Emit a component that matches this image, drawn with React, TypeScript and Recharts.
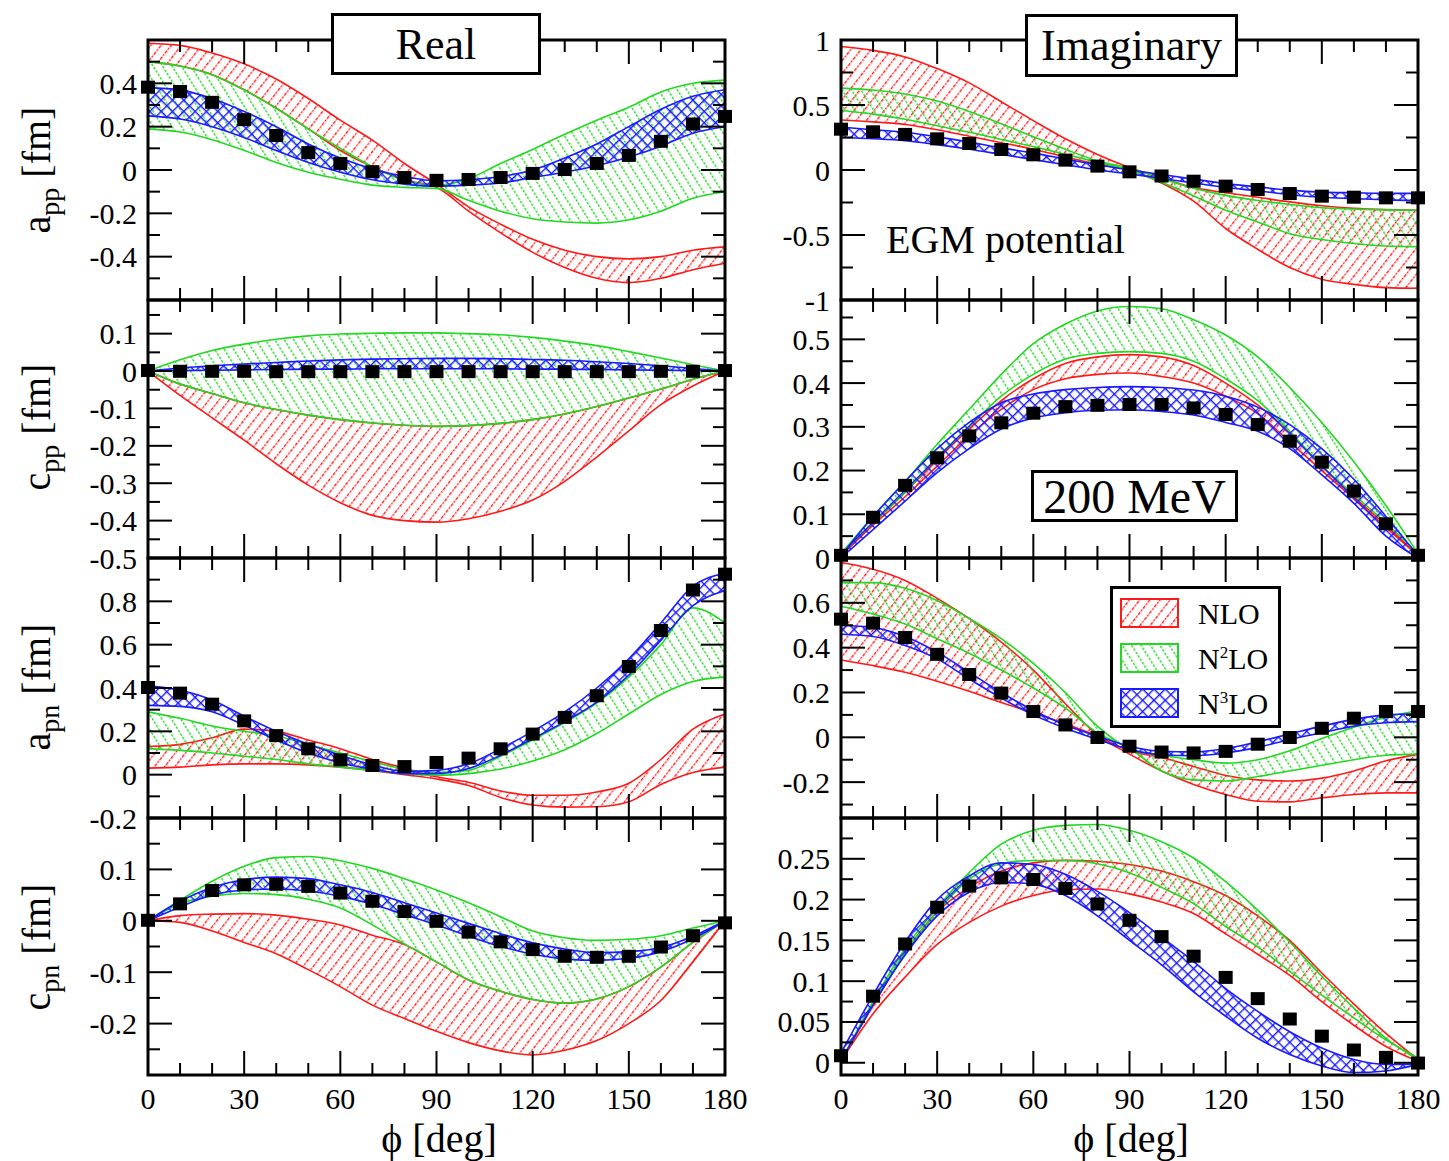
import React from 'react'
import { ComposedChart, Area, Scatter, XAxis, YAxis, ReferenceArea } from 'recharts'

const SERIF = '"Liberation Serif", "DejaVu Serif", "Times New Roman", serif'
const RED = '#ff1a1a'
const GREEN = '#22d822'
const BLUE = '#1a1aff'

const PHI = [0, 10, 20, 30, 40, 50, 60, 70, 80, 90, 100, 110, 120, 130, 140, 150, 160, 170, 180]
const PHI_MAJOR = [0, 30, 60, 90, 120, 150, 180]

// a_pp, real part
const appReNloA = [0.585, 0.575, 0.54, 0.49, 0.42, 0.33, 0.23, 0.138, 0.03, -0.065, -0.17, -0.25, -0.32, -0.37, -0.4, -0.41, -0.4, -0.37, -0.355]
const appReNloB = [0.5, 0.48, 0.44, 0.37, 0.285, 0.19, 0.09, 0.015, -0.046, -0.08, -0.19, -0.29, -0.38, -0.45, -0.5, -0.52, -0.5, -0.46, -0.43]
const appReN2A = [0.5, 0.48, 0.44, 0.37, 0.285, 0.19, 0.1, 0.015, -0.046, -0.07, -0.04, 0.03, 0.095, 0.165, 0.23, 0.29, 0.36, 0.4, 0.415]
const appReN2B = [0.19, 0.175, 0.14, 0.09, 0.035, -0.01, -0.043, -0.07, -0.08, -0.085, -0.14, -0.19, -0.225, -0.24, -0.245, -0.23, -0.19, -0.13, -0.1]
const appReN3A = [0.38, 0.37, 0.33, 0.27, 0.2, 0.12, 0.055, 0.005, -0.03, -0.05, -0.045, -0.03, 0.0, 0.055, 0.12, 0.2, 0.28, 0.34, 0.37]
const appReN3B = [0.25, 0.235, 0.2, 0.15, 0.09, 0.035, -0.01, -0.045, -0.065, -0.075, -0.07, -0.06, -0.035, -0.01, 0.02, 0.06, 0.11, 0.17, 0.2]
const appReExp = [0.38, 0.36, 0.31, 0.23, 0.157, 0.078, 0.028, -0.01, -0.037, -0.05, -0.046, -0.037, -0.018, 0.0, 0.028, 0.065, 0.13, 0.21, 0.245]

// a_pp, imaginary part
const appImNloA = [0.95, 0.92, 0.87, 0.78, 0.67, 0.525, 0.38, 0.24, 0.12, 0.02, -0.06, -0.135, -0.175, -0.21, -0.245, -0.275, -0.295, -0.305, -0.31]
const appImNloB = [0.385, 0.37, 0.35, 0.31, 0.26, 0.21, 0.16, 0.1, 0.045, 0.0, -0.1, -0.24, -0.45, -0.61, -0.75, -0.84, -0.88, -0.905, -0.91]
const appImN2A = [0.63, 0.615, 0.585, 0.53, 0.45, 0.355, 0.255, 0.16, 0.07, 0.015, -0.065, -0.14, -0.195, -0.235, -0.265, -0.29, -0.3, -0.307, -0.31]
const appImN2B = [0.46, 0.43, 0.39, 0.34, 0.29, 0.235, 0.18, 0.12, 0.06, 0.0, -0.095, -0.2, -0.31, -0.4, -0.49, -0.535, -0.565, -0.585, -0.59]
const appImN3A = [0.33, 0.31, 0.29, 0.255, 0.215, 0.17, 0.13, 0.085, 0.04, 0.0, -0.035, -0.07, -0.105, -0.13, -0.155, -0.17, -0.175, -0.18, -0.18]
const appImN3B = [0.25, 0.24, 0.225, 0.195, 0.16, 0.12, 0.08, 0.04, 0.0, -0.03, -0.065, -0.1, -0.135, -0.16, -0.19, -0.21, -0.22, -0.23, -0.235]
const appImExp = [0.31, 0.29, 0.27, 0.236, 0.2, 0.154, 0.113, 0.072, 0.026, -0.018, -0.05, -0.09, -0.128, -0.154, -0.185, -0.205, -0.213, -0.218, -0.218]

// c_pp, real part
const cppReNloA = [0, -0.035, -0.06, -0.085, -0.103, -0.118, -0.13, -0.139, -0.145, -0.148, -0.146, -0.14, -0.13, -0.115, -0.095, -0.072, -0.048, -0.022, 0]
const cppReNloB = [0, -0.065, -0.125, -0.185, -0.248, -0.305, -0.352, -0.386, -0.4, -0.404, -0.395, -0.375, -0.345, -0.295, -0.23, -0.16, -0.09, -0.04, 0]
const cppReN2A = [0, 0.03, 0.055, 0.072, 0.085, 0.094, 0.099, 0.101, 0.102, 0.102, 0.1, 0.097, 0.09, 0.08, 0.068, 0.052, 0.035, 0.017, 0]
const cppReN2B = [0, -0.035, -0.06, -0.085, -0.103, -0.118, -0.13, -0.139, -0.145, -0.148, -0.146, -0.14, -0.13, -0.115, -0.095, -0.072, -0.048, -0.022, 0]
const cppReN3A = [0, 0.008, 0.014, 0.019, 0.023, 0.027, 0.03, 0.032, 0.033, 0.034, 0.034, 0.033, 0.031, 0.029, 0.025, 0.02, 0.014, 0.007, 0]
const cppReN3B = [0, 0.001, 0.002, 0.003, 0.004, 0.005, 0.005, 0.006, 0.006, 0.006, 0.006, 0.006, 0.005, 0.005, 0.004, 0.003, 0.002, 0.001, 0]
const cppReExp = [0, -0.002, -0.002, -0.002, -0.003, -0.003, -0.003, -0.003, -0.003, -0.003, -0.003, -0.003, -0.003, -0.003, -0.003, -0.003, -0.002, -0.002, 0]

// c_pp, imaginary part
const cppImNloA = [0.01, 0.08, 0.15, 0.225, 0.295, 0.36, 0.41, 0.445, 0.46, 0.465, 0.46, 0.44, 0.4, 0.35, 0.285, 0.21, 0.14, 0.075, 0.005]
const cppImNloB = [0.005, 0.075, 0.14, 0.21, 0.28, 0.34, 0.385, 0.41, 0.42, 0.423, 0.415, 0.4, 0.37, 0.33, 0.265, 0.2, 0.135, 0.07, 0.005]
const cppImN2A = [0.01, 0.095, 0.175, 0.26, 0.34, 0.42, 0.49, 0.535, 0.565, 0.575, 0.57, 0.545, 0.51, 0.46, 0.39, 0.31, 0.22, 0.12, 0.01]
const cppImN2B = [0.01, 0.08, 0.15, 0.23, 0.3, 0.37, 0.42, 0.455, 0.468, 0.472, 0.468, 0.45, 0.41, 0.36, 0.29, 0.21, 0.145, 0.08, 0.01]
const cppImN3A = [0.005, 0.095, 0.175, 0.25, 0.31, 0.355, 0.375, 0.385, 0.39, 0.392, 0.39, 0.384, 0.37, 0.345, 0.305, 0.25, 0.18, 0.095, 0.005]
const cppImN3B = [0, 0.065, 0.13, 0.195, 0.25, 0.295, 0.32, 0.332, 0.338, 0.339, 0.335, 0.327, 0.31, 0.29, 0.25, 0.19, 0.125, 0.05, 0]
const cppImExp = [0.005, 0.092, 0.165, 0.228, 0.278, 0.308, 0.33, 0.345, 0.348, 0.35, 0.35, 0.342, 0.327, 0.304, 0.266, 0.218, 0.152, 0.077, 0.005]

// a_pn, real part
const apnReNloA = [0.13, 0.14, 0.17, 0.21, 0.2, 0.16, 0.12, 0.07, 0.03, -0.01, -0.035, -0.075, -0.095, -0.095, -0.08, -0.04, 0.07, 0.21, 0.28]
const apnReNloB = [0.03, 0.035, 0.045, 0.05, 0.05, 0.045, 0.035, 0.02, 0.0, -0.02, -0.05, -0.105, -0.14, -0.15, -0.148, -0.125, -0.045, 0.01, 0.035]
const apnReN2A = [0.29, 0.26, 0.225, 0.2, 0.18, 0.14, 0.1, 0.06, 0.025, 0.01, 0.02, 0.085, 0.16, 0.24, 0.33, 0.45, 0.6, 0.77, 0.7]
const apnReN2B = [0.12, 0.112, 0.1, 0.085, 0.07, 0.05, 0.035, 0.02, 0.005, -0.003, 0.005, 0.026, 0.063, 0.115, 0.19, 0.28, 0.37, 0.43, 0.45]
const apnReN3A = [0.41, 0.39, 0.345, 0.27, 0.2, 0.14, 0.09, 0.045, 0.015, 0.02, 0.05, 0.12, 0.2, 0.29, 0.4, 0.535, 0.7, 0.87, 0.93]
const apnReN3B = [0.32, 0.315, 0.29, 0.228, 0.16, 0.1, 0.055, 0.025, 0.005, 0.005, 0.028, 0.09, 0.166, 0.245, 0.335, 0.46, 0.62, 0.78, 0.85]
const apnReExp = [0.4, 0.374, 0.323, 0.246, 0.178, 0.117, 0.066, 0.04, 0.035, 0.054, 0.074, 0.117, 0.185, 0.262, 0.362, 0.497, 0.663, 0.85, 0.923]

// a_pn, imaginary part
const apnImNloA = [0.78, 0.75, 0.7, 0.62, 0.53, 0.425, 0.3, 0.15, 0.01, -0.075, -0.15, -0.21, -0.255, -0.285, -0.288, -0.27, -0.255, -0.248, -0.248]
const apnImNloB = [0.345, 0.32, 0.29, 0.25, 0.205, 0.155, 0.11, 0.06, 0.005, -0.06, -0.09, -0.13, -0.17, -0.19, -0.195, -0.182, -0.15, -0.105, -0.075]
const apnImN2A = [0.69, 0.69, 0.665, 0.61, 0.53, 0.44, 0.33, 0.2, 0.05, -0.05, -0.08, -0.1, -0.115, -0.1, -0.06, -0.005, 0.045, 0.09, 0.12]
const apnImN2B = [0.585, 0.55, 0.505, 0.44, 0.375, 0.3, 0.22, 0.13, 0.02, -0.05, -0.15, -0.19, -0.195, -0.175, -0.15, -0.125, -0.1, -0.08, -0.075]
const apnImN3A = [0.5, 0.49, 0.45, 0.38, 0.29, 0.2, 0.12, 0.055, 0.005, -0.04, -0.062, -0.065, -0.05, -0.02, 0.015, 0.05, 0.08, 0.1, 0.105]
const apnImN3B = [0.46, 0.45, 0.41, 0.35, 0.26, 0.175, 0.1, 0.04, -0.01, -0.055, -0.078, -0.082, -0.07, -0.045, -0.01, 0.02, 0.05, 0.065, 0.07]
const apnImExp = [0.525, 0.507, 0.443, 0.368, 0.278, 0.195, 0.113, 0.053, -0.003, -0.042, -0.068, -0.072, -0.065, -0.033, -0.003, 0.038, 0.083, 0.113, 0.113]

// c_pn, real part
const cpnReNloA = [0, 0.01, 0.013, 0.014, 0.011, 0.003, -0.008, -0.028, -0.046, -0.08, -0.115, -0.137, -0.153, -0.16, -0.152, -0.128, -0.09, -0.042, 0]
const cpnReNloB = [0, -0.003, -0.02, -0.042, -0.064, -0.095, -0.128, -0.164, -0.19, -0.215, -0.237, -0.253, -0.261, -0.252, -0.233, -0.2, -0.155, -0.08, 0]
const cpnReN2A = [0, 0.04, 0.077, 0.106, 0.123, 0.125, 0.117, 0.102, 0.082, 0.06, 0.035, 0.008, -0.02, -0.033, -0.038, -0.036, -0.029, -0.014, 0]
const cpnReN2B = [0, 0.033, 0.048, 0.053, 0.051, 0.042, 0.025, -0.008, -0.045, -0.08, -0.115, -0.137, -0.153, -0.16, -0.152, -0.128, -0.09, -0.042, 0]
const cpnReN3A = [0, 0.038, 0.065, 0.08, 0.085, 0.082, 0.07, 0.055, 0.035, 0.015, -0.005, -0.025, -0.043, -0.055, -0.062, -0.06, -0.052, -0.03, 0]
const cpnReN3B = [0, 0.027, 0.05, 0.06, 0.062, 0.058, 0.048, 0.032, 0.012, -0.008, -0.03, -0.05, -0.065, -0.074, -0.077, -0.073, -0.06, -0.035, 0]
const cpnReExp = [0, 0.032, 0.058, 0.069, 0.07, 0.066, 0.053, 0.037, 0.017, -0.002, -0.023, -0.042, -0.057, -0.07, -0.072, -0.07, -0.052, -0.03, -0.005]

// c_pn, imaginary part
const cpnImNloA = [0.002, 0.07, 0.135, 0.185, 0.215, 0.235, 0.245, 0.248, 0.247, 0.243, 0.235, 0.222, 0.205, 0.18, 0.15, 0.11, 0.072, 0.036, 0.004]
const cpnImNloB = [0.002, 0.06, 0.105, 0.145, 0.172, 0.192, 0.205, 0.212, 0.213, 0.207, 0.197, 0.183, 0.158, 0.133, 0.107, 0.075, 0.046, 0.02, 0.002]
const cpnImN2A = [0.002, 0.075, 0.14, 0.19, 0.233, 0.268, 0.285, 0.291, 0.292, 0.285, 0.271, 0.251, 0.222, 0.187, 0.148, 0.106, 0.067, 0.03, 0.004]
const cpnImN2B = [0.002, 0.072, 0.135, 0.185, 0.225, 0.244, 0.248, 0.248, 0.244, 0.233, 0.215, 0.195, 0.167, 0.142, 0.112, 0.083, 0.055, 0.028, 0.006]
const cpnImN3A = [0.012, 0.083, 0.148, 0.2, 0.229, 0.245, 0.243, 0.231, 0.21, 0.184, 0.154, 0.124, 0.091, 0.063, 0.038, 0.018, 0.004, -0.002, -0.002]
const cpnImN3B = [0.002, 0.071, 0.132, 0.18, 0.209, 0.221, 0.219, 0.205, 0.18, 0.15, 0.12, 0.087, 0.057, 0.03, 0.01, -0.004, -0.012, -0.01, -0.002]
const cpnImExp = [0.008, 0.081, 0.145, 0.19, 0.216, 0.226, 0.224, 0.213, 0.194, 0.174, 0.154, 0.13, 0.104, 0.078, 0.053, 0.032, 0.015, 0.006, -0.001]

function buildRows(nloA, nloB, n2A, n2B, n3A, n3B, exp) {
  return PHI.map((phi, i) => ({
    phi,
    nlo: [nloB[i], nloA[i]],
    n2: [n2B[i], n2A[i]],
    n3: [n3B[i], n3A[i]],
    exp: exp[i],
  }))
}

const PANELS = [
  {
    id: 'appRe', col: 0, row: 0,
    data: buildRows(appReNloA, appReNloB, appReN2A, appReN2B, appReN3A, appReN3B, appReExp),
    domain: [-0.6, 0.6],
    yMajor: [-0.6, -0.4, -0.2, 0, 0.2, 0.4, 0.6],
    yMinor: [-0.5, -0.3, -0.1, 0.1, 0.3, 0.5],
    yLabels: [-0.4, -0.2, 0, 0.2, 0.4],
  },
  {
    id: 'appIm', col: 1, row: 0,
    data: buildRows(appImNloA, appImNloB, appImN2A, appImN2B, appImN3A, appImN3B, appImExp),
    domain: [-1, 1],
    yMajor: [-1, -0.5, 0, 0.5, 1],
    yMinor: [-0.75, -0.25, 0.25, 0.75],
    yLabels: [-1, -0.5, 0, 0.5, 1],
  },
  {
    id: 'cppRe', col: 0, row: 1,
    data: buildRows(cppReNloA, cppReNloB, cppReN2A, cppReN2B, cppReN3A, cppReN3B, cppReExp),
    domain: [-0.5, 0.19],
    yMajor: [-0.5, -0.4, -0.3, -0.2, -0.1, 0, 0.1],
    yMinor: [-0.45, -0.35, -0.25, -0.15, -0.05, 0.05, 0.15],
    yLabels: [-0.5, -0.4, -0.3, -0.2, -0.1, 0, 0.1],
  },
  {
    id: 'cppIm', col: 1, row: 1,
    data: buildRows(cppImNloA, cppImNloB, cppImN2A, cppImN2B, cppImN3A, cppImN3B, cppImExp),
    domain: [0, 0.59],
    yMajor: [0, 0.1, 0.2, 0.3, 0.4, 0.5],
    yMinor: [0.05, 0.15, 0.25, 0.35, 0.45, 0.55],
    yLabels: [0, 0.1, 0.2, 0.3, 0.4, 0.5],
  },
  {
    id: 'apnRe', col: 0, row: 2,
    data: buildRows(apnReNloA, apnReNloB, apnReN2A, apnReN2B, apnReN3A, apnReN3B, apnReExp),
    domain: [-0.2, 1.0],
    yMajor: [-0.2, 0, 0.2, 0.4, 0.6, 0.8, 1.0],
    yMinor: [-0.1, 0.1, 0.3, 0.5, 0.7, 0.9],
    yLabels: [-0.2, 0, 0.2, 0.4, 0.6, 0.8],
  },
  {
    id: 'apnIm', col: 1, row: 2,
    data: buildRows(apnImNloA, apnImNloB, apnImN2A, apnImN2B, apnImN3A, apnImN3B, apnImExp),
    domain: [-0.36, 0.8],
    yMajor: [-0.2, 0, 0.2, 0.4, 0.6, 0.8],
    yMinor: [-0.3, -0.1, 0.1, 0.3, 0.5, 0.7],
    yLabels: [-0.2, 0, 0.2, 0.4, 0.6],
  },
  {
    id: 'cpnRe', col: 0, row: 3,
    data: buildRows(cpnReNloA, cpnReNloB, cpnReN2A, cpnReN2B, cpnReN3A, cpnReN3B, cpnReExp),
    domain: [-0.3, 0.2],
    yMajor: [-0.3, -0.2, -0.1, 0, 0.1, 0.2],
    yMinor: [-0.25, -0.15, -0.05, 0.05, 0.15],
    yLabels: [-0.2, -0.1, 0, 0.1],
  },
  {
    id: 'cpnIm', col: 1, row: 3,
    data: buildRows(cpnImNloA, cpnImNloB, cpnImN2A, cpnImN2B, cpnImN3A, cpnImN3B, cpnImExp),
    domain: [-0.015, 0.3],
    yMajor: [0, 0.05, 0.1, 0.15, 0.2, 0.25, 0.3],
    yMinor: [0.025, 0.075, 0.125, 0.175, 0.225, 0.275],
    yLabels: [0, 0.05, 0.1, 0.15, 0.2, 0.25],
  },
]

// layout of the plot frames on the page
const PLOT_W = 577
const COL_X = [148, 841]
const ROWS = [
  { top: 40, h: 260 },
  { top: 300, h: 258 },
  { top: 558, h: 260 },
  { top: 818, h: 257 },
]
const ML = 100
const MR = 24
const MT = 20
const MAJOR_LEN = 24
const MINOR_LEN = 12

function hatchDefs(prefix) {
  return [
    <pattern key="nlo" id={`${prefix}-nlo`} patternUnits="userSpaceOnUse" width={8} height={8} patternTransform="rotate(38)">
      <line x1={0.7} y1={0} x2={0.7} y2={8} stroke={RED} strokeWidth={1.4} strokeDasharray="2.2 1.2" />
    </pattern>,
    <pattern key="n2" id={`${prefix}-n2`} patternUnits="userSpaceOnUse" width={8} height={8} patternTransform="rotate(-32)">
      <line x1={0.7} y1={0} x2={0.7} y2={8} stroke={GREEN} strokeWidth={1.4} strokeDasharray="2.5 1.5" />
    </pattern>,
    <pattern key="n3" id={`${prefix}-n3`} patternUnits="userSpaceOnUse" width={8} height={8} patternTransform="rotate(45)">
      <line x1={0.7} y1={0} x2={0.7} y2={8} stroke={BLUE} strokeWidth={1.4} />
      <line x1={0} y1={0.7} x2={8} y2={0.7} stroke={BLUE} strokeWidth={1.4} />
    </pattern>,
  ]
}

const square = (props) => {
  const { cx, cy } = props
  if (cx == null || cy == null) return <g />
  return <rect x={cx - 7} y={cy - 7} width={14} height={13} fill="#000" />
}

function PanelChart({ p }) {
  const { top, h } = ROWS[p.row]
  const left = COL_X[p.col]
  const last = p.row === 3
  const MB = last ? 50 : 24
  const plotBottom = MT + h
  const plotRight = ML + PLOT_W

  const xTick = (props) => {
    const { x, payload } = props
    const v = payload.value
    const major = PHI_MAJOR.includes(v)
    const len = major ? MAJOR_LEN : MINOR_LEN
    return (
      <g>
        <line x1={x} x2={x} y1={plotBottom} y2={plotBottom - len} stroke="#000" strokeWidth={2} />
        <line x1={x} x2={x} y1={MT} y2={MT + len} stroke="#000" strokeWidth={2} />
        {last && major && (
          <text x={x} y={plotBottom + 23} textAnchor="middle" dominantBaseline="central" fontSize={30} fontFamily={SERIF} fill="#000">
            {v}
          </text>
        )}
      </g>
    )
  }

  const yTick = (props) => {
    const { y, payload } = props
    const v = payload.value
    const major = p.yMajor.includes(v)
    const len = major ? MAJOR_LEN : MINOR_LEN
    return (
      <g>
        <line x1={ML} x2={ML + len} y1={y} y2={y} stroke="#000" strokeWidth={2} />
        <line x1={plotRight} x2={plotRight - len} y1={y} y2={y} stroke="#000" strokeWidth={2} />
        {p.yLabels.includes(v) && (
          <text x={ML - 11} y={y} textAnchor="end" dominantBaseline="central" fontSize={30} fontFamily={SERIF} fill="#000">
            {String(v)}
          </text>
        )}
      </g>
    )
  }

  return (
    <div style={{ position: 'absolute', left: left - ML, top: top - MT }}>
      <ComposedChart
        width={ML + PLOT_W + MR}
        height={MT + h + MB}
        data={p.data}
        margin={{ top: MT, right: MR, bottom: 0, left: 0 }}
      >
        <defs>{hatchDefs(p.id)}</defs>
        <XAxis
          type="number"
          dataKey="phi"
          domain={[0, 180]}
          ticks={PHI}
          interval={0}
          height={MB}
          axisLine={false}
          tickLine={false}
          tick={xTick}
        />
        <YAxis
          type="number"
          domain={p.domain}
          ticks={[...p.yMajor, ...p.yMinor]}
          interval={0}
          width={ML}
          axisLine={false}
          tickLine={false}
          tick={yTick}
        />
        <Area dataKey="nlo" type="monotone" stroke={RED} strokeWidth={1.6} fill={`url(#${p.id}-nlo)`} fillOpacity={1} dot={false} activeDot={false} isAnimationActive={false} />
        <Area dataKey="n2" type="monotone" stroke={GREEN} strokeWidth={1.6} fill={`url(#${p.id}-n2)`} fillOpacity={1} dot={false} activeDot={false} isAnimationActive={false} />
        <Area dataKey="n3" type="monotone" stroke={BLUE} strokeWidth={1.6} fill={`url(#${p.id}-n3)`} fillOpacity={1} dot={false} activeDot={false} isAnimationActive={false} />
        <Scatter dataKey="exp" shape={square} isAnimationActive={false} />
        <ReferenceArea x1={0} x2={180} y1={p.domain[0]} y2={p.domain[1]} fill="none" stroke="#000" strokeWidth={3} />
      </ComposedChart>
    </div>
  )
}

const yTitles = [
  { base: 'a', sub: 'pp', y: 170 },
  { base: 'c', sub: 'pp', y: 427 },
  { base: 'a', sub: 'pn', y: 687 },
  { base: 'c', sub: 'pn', y: 947 },
]

const legendItems = [
  { key: 'nlo', color: RED, label: <>NLO</> },
  { key: 'n2', color: GREEN, label: <>N<sup style={{ fontSize: 17 }}>2</sup>LO</> },
  { key: 'n3', color: BLUE, label: <>N<sup style={{ fontSize: 17 }}>3</sup>LO</> },
]

const boxStyle = {
  position: 'absolute' as const,
  background: '#fff',
  border: '3px solid #000',
  boxSizing: 'border-box' as const,
  display: 'flex',
  alignItems: 'center',
  justifyContent: 'center',
  fontFamily: SERIF,
  color: '#000',
  whiteSpace: 'nowrap' as const,
}

export default function App() {
  return (
    <div style={{ position: 'absolute', left: 0, top: 0, width: 1449, height: 1161, background: '#fff', overflow: 'hidden', fontFamily: SERIF }}>
      {PANELS.map((p) => (
        <PanelChart key={p.id} p={p} />
      ))}

      {yTitles.map((t) => (
        <div
          key={t.y}
          style={{
            position: 'absolute',
            left: 40,
            top: t.y,
            transform: 'translate(-50%, -50%) rotate(-90deg)',
            fontSize: 40,
            whiteSpace: 'nowrap',
            lineHeight: 1,
          }}
        >
          {t.base}
          <sub style={{ fontSize: 28 }}>{t.sub}</sub> [fm]
        </div>
      ))}

      {[439, 1131].map((cx) => (
        <div
          key={cx}
          style={{ position: 'absolute', left: cx, top: 1139, transform: 'translate(-50%, -50%)', fontSize: 40, whiteSpace: 'nowrap', lineHeight: 0.9 }}
        >
          ϕ [deg]
        </div>
      ))}

      <div style={{ ...boxStyle, left: 331, top: 13, width: 210, height: 62, fontSize: 44 }}>Real</div>
      <div style={{ ...boxStyle, left: 1025, top: 14, width: 213, height: 63, fontSize: 44 }}>Imaginary</div>
      <div style={{ position: 'absolute', left: 886, top: 240, transform: 'translateY(-50%)', fontSize: 40, whiteSpace: 'nowrap', lineHeight: 1 }}>
        EGM potential
      </div>
      <div style={{ ...boxStyle, left: 1031, top: 470, width: 207, height: 52, fontSize: 48 }}>200 MeV</div>

      <div style={{ position: 'absolute', left: 1110, top: 586, width: 171, height: 142, background: '#fff', border: '3px solid #000', boxSizing: 'border-box' }}>
        {legendItems.map((it, i) => (
          <div key={it.key} style={{ position: 'absolute', left: 7, top: 9 + i * 45, display: 'flex', alignItems: 'center' }}>
            <svg width={60} height={31}>
              <defs>{hatchDefs(`legend-${it.key}`)}</defs>
              <rect x={1} y={1} width={57} height={28} fill={`url(#legend-${it.key}-${it.key})`} stroke={it.color} strokeWidth={2} />
            </svg>
            <span style={{ marginLeft: 18, fontSize: 30, lineHeight: 1 }}>{it.label}</span>
          </div>
        ))}
      </div>
    </div>
  )
}
